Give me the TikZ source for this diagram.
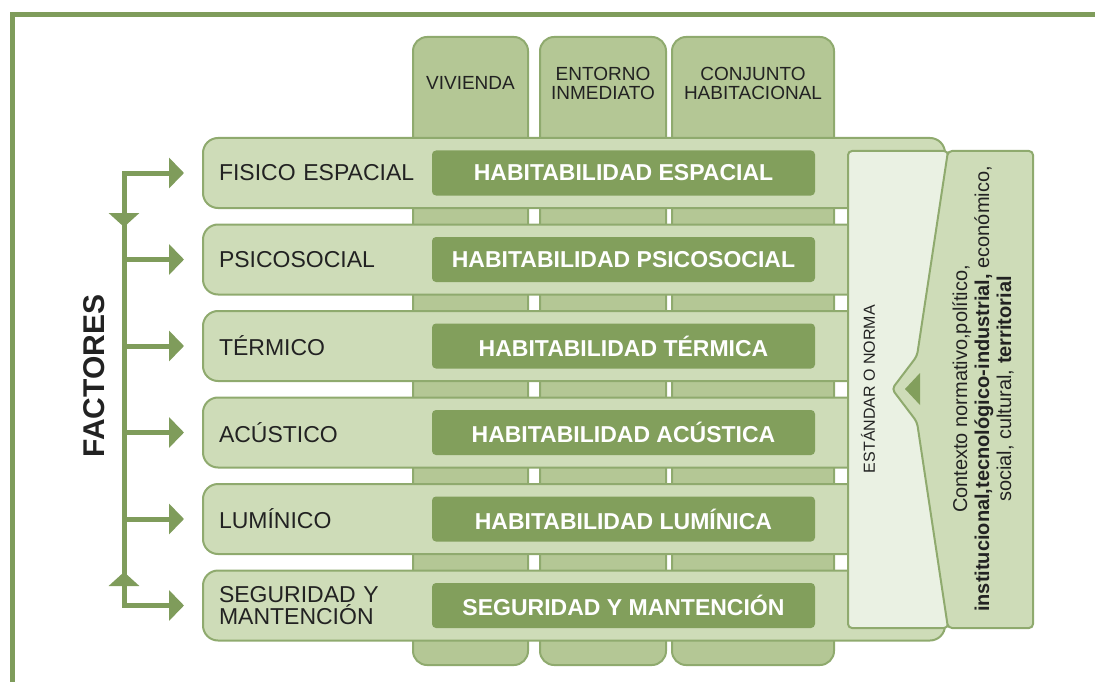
\documentclass[tikz,border=0pt]{standalone}
\usepackage{fontspec}
\setmainfont{Liberation Sans}
\usetikzlibrary{arrows.meta,positioning}
\definecolor{framegreen}{HTML}{7F9C5B}
\definecolor{boxline}{HTML}{8FAA6E}
\definecolor{colfill}{HTML}{B4C795}
\definecolor{rowfill}{HTML}{CEDCB8}
\definecolor{innerfill}{HTML}{829F5C}
\definecolor{lightfill}{HTML}{EAF1E3}
\definecolor{textdark}{HTML}{222222}
\begin{document}
\begin{tikzpicture}[x=1pt,y=-1pt,
  colbox/.style={draw=boxline, fill=colfill, line width=2pt, rounded corners=14pt,
    minimum width=#1, minimum height=628pt, inner sep=0pt},
  headtext/.style={align=center, text=textdark, font=\fontsize{19}{19}\selectfont},
  rowbox/.style={draw=boxline, fill=rowfill, line width=2pt, rounded corners=15pt,
    minimum width=742pt, minimum height=70pt, text width=710pt, inner xsep=16pt,
    align=left, text=textdark, font=\fontsize{23}{22}\selectfont},
  habbox/.style={fill=innerfill, rounded corners=4pt, minimum width=383pt,
    minimum height=45pt, text=white, font=\bfseries\fontsize{23}{24}\selectfont},
  bracket/.style={draw=framegreen, line width=5pt},
  flow/.style={bracket, -{Triangle[length=15pt,width=30pt]}}]
  \useasboundingbox (0,0) rectangle (1095,682);
  % Frame lines
  \draw[bracket] (12,682) -- (12,15) -- (1095,15);
  % Columns
  \node[colbox=115pt] (vivienda) at (470.5,351) {};
  \node[colbox=126pt] (entorno) at (603,351) {};
  \node[colbox=162pt] (conjunto) at (753,351) {};
  \node[headtext] at ([yshift=-47pt]vivienda.north) {VIVIENDA};
  \node[headtext] at ([yshift=-47pt]entorno.north) {ENTORNO\\INMEDIATO};
  \node[headtext] at ([yshift=-47pt]conjunto.north) {CONJUNTO\\HABITACIONAL};
  % Rows
  \node[rowbox] (fisico) at (574,173) {FISICO ESPACIAL};
  \node[rowbox] (psico) at (574,259.5) {PSICOSOCIAL};
  \node[rowbox] (termico) at (574,346) {TÉRMICO};
  \node[rowbox] (acustico) at (574,432.5) {ACÚSTICO};
  \node[rowbox] (luminico) at (574,519) {LUMÍNICO};
  \node[rowbox] (seguridad) at (574,605.5) {SEGURIDAD Y\\MANTENCIÓN};
  % Inside boxes
  \node[habbox] (hfisico) at (623.5,173) {HABITABILIDAD ESPACIAL};
  \node[habbox] (hpsico) at (623.5,259.5) {HABITABILIDAD PSICOSOCIAL};
  \node[habbox] (htermico) at (623.5,346) {HABITABILIDAD TÉRMICA};
  \node[habbox] (hacustico) at (623.5,432.5) {HABITABILIDAD ACÚSTICA};
  \node[habbox] (hluminico) at (623.5,519) {HABITABILIDAD LUMÍNICA};
  \node[habbox] (hseguridad) at (623.5,605.5) {SEGURIDAD Y MANTENCIÓN};
  % Standard box and context panel
  \node[draw=boxline, fill=lightfill, line width=2pt, rounded corners=4pt,
    minimum width=100pt, minimum height=477pt] (estandar) at (898,389.5) {};
  \draw[draw=boxline, fill=rowfill, line width=2pt, rounded corners=4pt]
    (948,151) -- (1033,151) -- (1033,628) -- (948,628) -- (917,422)
    -- (892,389) -- (917,356) -- cycle;
  \fill[innerfill] (905,389) -- (920,373) -- (920,405) -- cycle;
  \node[rotate=90, text=textdark, font=\fontsize{16}{18}\selectfont]
    (norma) at (868,389) {ESTÁNDAR O NORMA};
  \node[rotate=90, align=center, text=textdark, font=\fontsize{20}{22}\selectfont]
    (contexto) at (983,389) {Contexto normativo,político,\\
    \textbf{institucional,tecnológico-industrial,} económico,\\
    social, cultural, \textbf{territorial}};
  % Factors bracket
  \node[rotate=90, text=textdark, font=\bfseries\fontsize{30}{32}\selectfont]
    (factores) at (94,376) {FACTORES};
  \coordinate (b1) at (124,173);
  \coordinate (b2) at (124,259.5);
  \coordinate (b3) at (124,346);
  \coordinate (b4) at (124,432.5);
  \coordinate (b5) at (124,519);
  \coordinate (b6) at (124,605.5);
  \coordinate (downtip) at (124,227);
  \coordinate (uptip) at (124,572);
  \draw[bracket, line cap=rect] (b1) -- (b6);
  \draw[bracket, -{Triangle[length=14pt,width=30pt]}] (b1) -- (downtip);
  \draw[bracket, -{Triangle[length=14pt,width=30pt]}] (b6) -- (uptip);
  \draw[flow] (b1) -- ([xshift=-18pt]fisico.west);
  \draw[flow] (b2) -- ([xshift=-18pt]psico.west);
  \draw[flow] (b3) -- ([xshift=-18pt]termico.west);
  \draw[flow] (b4) -- ([xshift=-18pt]acustico.west);
  \draw[flow] (b5) -- ([xshift=-18pt]luminico.west);
  \draw[flow] (b6) -- ([xshift=-18pt]seguridad.west);
\end{tikzpicture}
\end{document}
